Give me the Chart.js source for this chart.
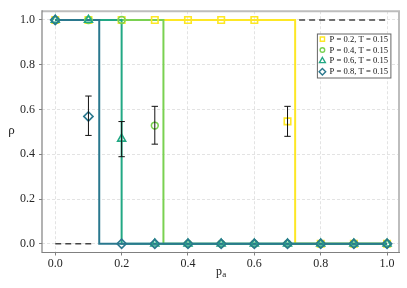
<!DOCTYPE html>
<html><head><meta charset="utf-8">
<style>html,body{margin:0;padding:0;background:#fff;}#wrap{width:407px;height:288px;position:relative;}</style>
<script src="https://cdn.jsdelivr.net/npm/chart.js@4.4.1/dist/chart.umd.min.js"></script>
</head><body><div id="wrap"><canvas id="c" width="407" height="288"></canvas></div>
<script>
// ---- data ----
const pa = [0.0, 0.1, 0.2, 0.3, 0.4, 0.5, 0.6, 0.7, 0.8, 0.9, 1.0];
const seriesLabels = ['P = 0.2, T = 0.15', 'P = 0.4, T = 0.15', 'P = 0.6, T = 0.15', 'P = 0.8, T = 0.15'];
const rhoP02 = [1, 1, 1, 1, 1, 1, 1, 0.547, 0, 0, 0];
const rhoP04 = [1, 1, 1, 0.528, 0, 0, 0, 0, 0, 0, 0];
const rhoP06 = [1, 1, 0.469, 0, 0, 0, 0, 0, 0, 0, 0];
const rhoP08 = [1, 0.569, 0, 0, 0, 0, 0, 0, 0, 0, 0];
const errLoP02 = [null, null, null, null, null, null, null, 0.480, null, null, null];
const errHiP02 = [null, null, null, null, null, null, null, 0.614, null, null, null];
const errLoP04 = [null, null, null, 0.445, null, null, null, null, null, null, null];
const errHiP04 = [null, null, null, 0.614, null, null, null, null, null, null, null];
const errLoP06 = [null, null, 0.389, null, null, null, null, null, null, null, null];
const errHiP06 = [null, null, 0.546, null, null, null, null, null, null, null, null];
const errLoP08 = [null, 0.484, null, null, null, null, null, null, null, null, null];
const errHiP08 = [null, 0.660, null, null, null, null, null, null, null, null, null];
// theoretical step transitions (rho jumps 1 -> 0)
const transitions = [0.723, 0.326, 0.200, 0.1325];
const refHighX = [0.735, 1.0];   // dashed reference at rho = 1
const refLowX = [0.0, 0.115];    // dashed reference at rho = 0
const xTicks = [0.0, 0.2, 0.4, 0.6, 0.8, 1.0];
const yTicks = [0.0, 0.2, 0.4, 0.6, 0.8, 1.0];

// ---- style ----
const colors = ['#fde725', '#7ad151', '#22a884', '#2a788e'];
const styles = ['rect', 'circle', 'triangle', 'rectRot'];
const radii = [4.6, 3.4, 4.6, 4.6];
const rhoAll = [rhoP02, rhoP04, rhoP06, rhoP08];
const errLo = [errLoP02, errLoP04, errLoP06, errLoP08];
const errHi = [errHiP02, errHiP04, errHiP06, errHiP08];
const SERIF = "'Liberation Serif', 'DejaVu Serif', serif";

const datasets = [];
datasets.push({type:'line', data: refHighX.map(x => ({x, y: 1})), borderColor:'#444', borderWidth:1.5, borderDash:[6,4], pointRadius:0, order:20});
datasets.push({type:'line', data: refLowX.map(x => ({x, y: 0})), borderColor:'#444', borderWidth:1.5, borderDash:[6,4], pointRadius:0, order:20});
transitions.forEach((t, i) => {
  datasets.push({type:'line', data:[{x:pa[0], y:1}, {x:t, y:1}, {x:t, y:0}, {x:pa[pa.length-1], y:0}],
    borderColor: colors[i], borderWidth: 2, pointRadius: 0, order: 15 - i});
});
rhoAll.forEach((arr, i) => {
  datasets.push({type:'scatter', label: seriesLabels[i], data: pa.map((x, k) => ({x, y: arr[k]})),
    pointStyle: styles[i], pointRadius: radii[i], pointHoverRadius: radii[i], borderColor: colors[i],
    backgroundColor: 'rgba(0,0,0,0)', borderWidth: 1.6, order: 8 - i, _series: i});
});

const errorBars = {
  id: 'errorBars',
  afterDatasetsDraw(chart) {
    const ctx = chart.ctx, xs = chart.scales.x, ys = chart.scales.y;
    ctx.save();
    ctx.strokeStyle = '#111'; ctx.lineWidth = 1;
    errLo.forEach((lo, i) => {
      lo.forEach((l, k) => {
        if (l === null) return;
        const h = errHi[i][k];
        const px = xs.getPixelForValue(pa[k]);
        const y1 = ys.getPixelForValue(l), y2 = ys.getPixelForValue(h);
        ctx.beginPath();
        ctx.moveTo(px, y1); ctx.lineTo(px, y2);
        ctx.moveTo(px - 3.2, y1); ctx.lineTo(px + 3.2, y1);
        ctx.moveTo(px - 3.2, y2); ctx.lineTo(px + 3.2, y2);
        ctx.stroke();
      });
    });
    ctx.restore();
  }
};

const decor = {
  id: 'decor',
  afterDraw(chart) {
    const ctx = chart.ctx, a = chart.chartArea;
    ctx.save();
    // spines
    ctx.strokeStyle = '#bdbdbd'; ctx.lineWidth = 2;
    ctx.beginPath(); ctx.moveTo(a.left, a.top); ctx.lineTo(a.right, a.top); ctx.lineTo(a.right, a.bottom); ctx.stroke();
    ctx.strokeStyle = '#808080'; ctx.lineWidth = 1.2;
    ctx.beginPath(); ctx.moveTo(a.left, a.top - 1); ctx.lineTo(a.left, a.bottom); ctx.lineTo(a.right + 1, a.bottom); ctx.stroke();
    // axis labels
    ctx.fillStyle = '#222';
    ctx.font = '13px ' + SERIF; ctx.textAlign = 'center'; ctx.textBaseline = 'middle';
    ctx.fillText('ρ', 11.5, (a.top + a.bottom) / 2 - 1);
    const cx = (a.left + a.right) / 2;
    ctx.textAlign = 'left'; ctx.textBaseline = 'alphabetic';
    ctx.font = '12px ' + SERIF;
    ctx.fillText('p', cx - 4.5, 274.5);
    const pw = ctx.measureText('p').width;
    ctx.font = '9px ' + SERIF;
    ctx.fillText('a', cx - 4.5 + pw + 0.3, 276.7);
    // legend
    const bw = 74.5, bh = 45, bx = a.right - 7.6 - bw, by = a.top + 22.3;
    ctx.fillStyle = 'rgba(255,255,255,0.85)';
    ctx.fillRect(bx, by, bw, bh);
    ctx.strokeStyle = '#666'; ctx.lineWidth = 1;
    ctx.strokeRect(bx + 0.5, by + 0.5, bw - 1, bh - 1);
    const lr = [3.0, 2.3, 3.4, 3.3];
    seriesLabels.forEach((lab, i) => {
      const yy = by + 5.6 + i * 10.9;
      ctx.lineWidth = 1.4; ctx.strokeStyle = colors[i]; ctx.fillStyle = 'rgba(0,0,0,0)';
      Chart.helpers.drawPoint(ctx, {pointStyle: styles[i], radius: lr[i], rotation: 0, borderWidth: 1.4}, bx + 5.5, yy);
      ctx.fillStyle = '#111'; ctx.font = '8.6px ' + SERIF; ctx.textBaseline = 'middle'; ctx.textAlign = 'left';
      ctx.fillText(lab, bx + 12.7, yy + 0.3);
    });
    ctx.restore();
  }
};

new Chart(document.getElementById('c'), {
  type: 'scatter',
  data: { datasets },
  options: {
    responsive: false, animation: false, devicePixelRatio: 1,
    layout: { padding: { top: 7, right: 8, left: 0, bottom: 0 } },
    plugins: { legend: { display: false }, tooltip: { enabled: false } },
    scales: {
      x: {
        type: 'linear', min: -0.04, max: 1.036,
        afterBuildTicks: s => { s.ticks = xTicks.map(v => ({ value: v })); },
        afterFit: s => { s.height = 35.5; },
        ticks: { callback: v => v.toFixed(1), font: { family: SERIF, size: 12 }, color: '#262626', padding: 1, maxRotation: 0 },
        grid: { color: '#dcdcdc', lineWidth: 0.8, tickLength: 3, tickColor: '#808080', tickWidth: 1 },
        border: { display: false, dash: [3, 2] }
      },
      y: {
        type: 'linear', min: -0.039, max: 1.039,
        afterBuildTicks: s => { s.ticks = yTicks.map(v => ({ value: v })); },
        afterFit: s => { s.width = 42; },
        ticks: { callback: v => v.toFixed(1), font: { family: SERIF, size: 12 }, color: '#262626', padding: 4 },
        grid: { color: '#dcdcdc', lineWidth: 0.8, tickLength: 3, tickColor: '#808080', tickWidth: 1 },
        border: { display: false, dash: [3, 2] }
      }
    }
  },
  plugins: [errorBars, decor]
});
</script></body></html>
